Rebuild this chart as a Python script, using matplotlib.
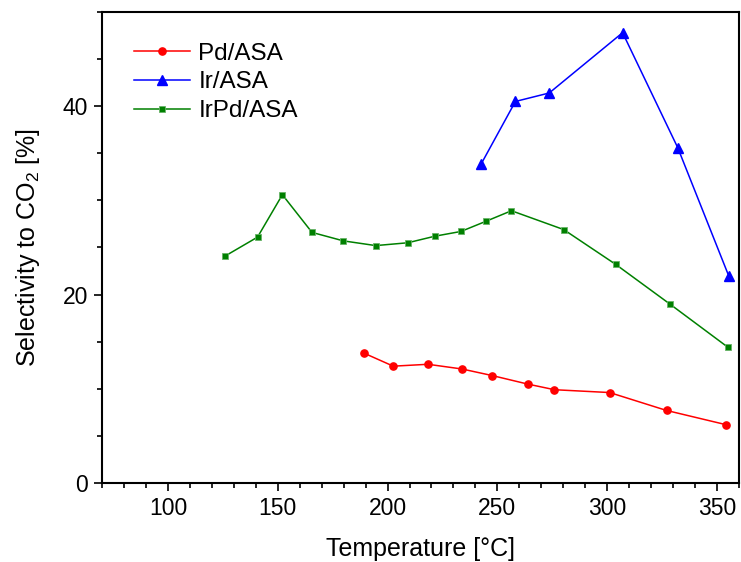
import matplotlib
matplotlib.use("Agg")
import matplotlib.pyplot as plt
from matplotlib.ticker import MultipleLocator

plt.rcParams['font.family'] = ['Liberation Sans', 'DejaVu Sans']
plt.rcParams['mathtext.fontset'] = 'custom'
plt.rcParams['mathtext.rm'] = 'Liberation Sans'

# Pd/ASA
pd_temp = [189.1, 202.6, 218.4, 233.9, 247.7, 263.8, 276.0, 301.1, 327.0, 353.9]
pd_sel = [13.8, 12.4, 12.6, 12.1, 11.4, 10.5, 9.9, 9.6, 7.7, 6.2]

# Ir/ASA
ir_temp = [242.7, 258.2, 273.6, 307.0, 332.1, 355.3]
ir_sel = [33.9, 40.5, 41.4, 47.8, 35.6, 22.0]

# IrPd/ASA
irpd_temp = [126.1, 140.8, 152.1, 165.6, 179.9, 194.6, 209.2, 221.6, 233.4,
             245.0, 256.4, 280.2, 303.9, 328.5, 355.0]
irpd_sel = [24.1, 26.1, 30.6, 26.6, 25.7, 25.2, 25.5, 26.2, 26.7,
            27.8, 28.9, 26.9, 23.2, 19.0, 14.4]

fig = plt.figure(figsize=(7.41, 5.62), dpi=100)
ax = fig.add_axes([0.1377, 0.1406, 0.8596, 0.8381])

ax.plot(pd_temp, pd_sel, color='#ff0000', lw=1.1, marker='o', ms=5.2,
        mec='#ff0000', label='Pd/ASA')
ax.plot(ir_temp, ir_sel, color='#0000ff', lw=1.1, marker='^', ms=6.5,
        mec='#0000ff', label='Ir/ASA')
ax.plot(irpd_temp, irpd_sel, color='#008000', lw=1.1, marker='s', ms=5,
        mec='#66b366', mew=0.6, label='IrPd/ASA')

ax.set_xlim(70, 360)
ax.set_ylim(0, 50)
ax.xaxis.set_major_locator(MultipleLocator(50))
ax.xaxis.set_minor_locator(MultipleLocator(10))
ax.yaxis.set_major_locator(MultipleLocator(20))
ax.yaxis.set_minor_locator(MultipleLocator(5))
ax.tick_params(which='both', direction='out', top=False, right=False,
               width=1.2, labelsize=16.5)
ax.tick_params(which='major', length=6, pad=4)
ax.tick_params(which='minor', length=3.5)
for s in ax.spines.values():
    s.set_linewidth(1.5)

ax.set_xlabel('Temperature [°C]', fontsize=18, labelpad=12)
ax.set_ylabel('Selectivity to CO$_2$ [%]', fontsize=18, labelpad=15)

ax.legend(loc='upper left', bbox_to_anchor=(0.05, 0.935), frameon=False,
          fontsize=17.5, handlelength=2.3, handletextpad=0.35,
          labelspacing=0.28, borderpad=0, borderaxespad=0)

fig.savefig('out.png', dpi=100)
